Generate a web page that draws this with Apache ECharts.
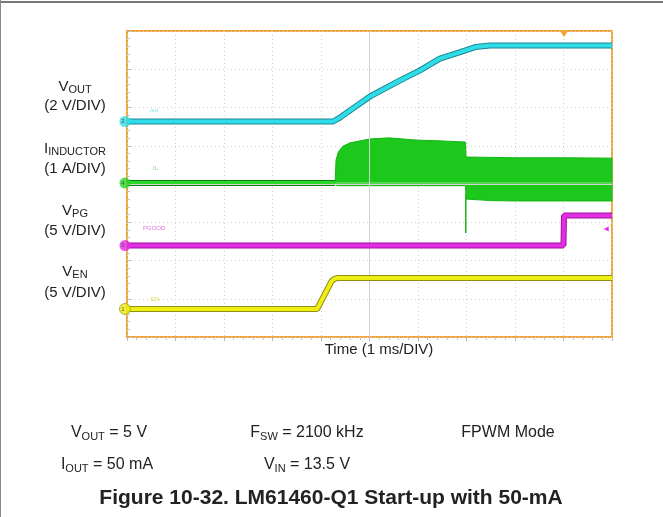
<!DOCTYPE html>
<html><head><meta charset="utf-8">
<script src="https://cdn.jsdelivr.net/npm/echarts@6/dist/echarts.min.js"></script>
<style>
html,body{margin:0;padding:0;background:#fff;}
#wrap{position:relative;width:663px;height:517px;overflow:hidden;background:#fff;}
#chart{position:absolute;left:0;top:0;width:663px;height:517px;}
#topline{position:absolute;left:0;top:1px;width:663px;height:2px;background:#787878;}
#leftline{position:absolute;left:0;top:0;width:1px;height:517px;background:#8a8a8a;}
</style></head><body>
<div id="wrap"><div id="chart"></div><div id="topline"></div><div id="leftline"></div></div>
<script>
// ---- data read from the scope shot (time in ms, 1 ms/DIV) ----
// VOUT (V), 2 V/DIV
const voutTime = [0, 4.25, 4.4, 4.6, 5.01, 5.63, 6.04, 6.45, 6.87, 7.18, 7.48, 10];
const voutVal  = [0, 0, 0.22, 0.58, 1.31, 2.15, 2.67, 3.29, 3.63, 3.89, 3.97, 3.97];
// Inductor current switching envelope (A), 1 A/DIV
const ilTime  = [4.29, 4.31, 4.36, 4.45, 4.6, 5.0, 5.4, 6.0, 6.5, 6.98, 6.99, 7.5, 8.0, 9.0, 10];
const ilUpper = [0, 0.6, 0.82, 0.96, 1.05, 1.15, 1.18, 1.12, 1.10, 1.07, 0.68, 0.67, 0.66, 0.66, 0.65];
const ilLower = [0, -0.06, -0.07, -0.07, -0.07, -0.07, -0.07, -0.07, -0.07, -0.07, -0.42, -0.46, -0.47, -0.47, -0.47];
const ilSpikeTime = [6.985, 6.985];
const ilSpikeVal  = [-0.3, -1.31];
// VPG (V), 5 V/DIV
const vpgTime = [0, 9.0, 9.01, 10];
const vpgVal  = [0, 0, 3.92, 3.92];
// VEN (V), 5 V/DIV
const venTime = [0, 3.92, 4.22, 4.28, 4.33, 10];
const venVal  = [0, 0, 3.66, 3.95, 4.05, 4.05];

// channel scale (units per DIV) and ground offset (DIV from bottom)
const channels = {
  vout: { scale: 2, offset: 5.634 },
  il:   { scale: 1, offset: 4.026 },
  vpg:  { scale: 5, offset: 2.392 },
  ven:  { scale: 5, offset: 0.732 }
};
const toDiv = (ch, v) => channels[ch].offset + v / channels[ch].scale;
const pts = (ch, ts, vs) => ts.map((t, i) => [t, toDiv(ch, vs[i])]);

const voutPts = pts('vout', voutTime, voutVal);
const venPts = pts('ven', venTime, venVal);
const vpgPts = pts('vpg', vpgTime, vpgVal);
const ilUpPts = pts('il', ilTime, ilUpper);
const ilLowPts = pts('il', ilTime, ilLower);
const ilStart = ilTime[0];
const ilBasePts = [[0, toDiv('il', 0)], [ilStart, toDiv('il', 0)]];
const ilMidPts = [[ilStart, toDiv('il', 0)], [10, toDiv('il', 0)]];
const ilSpikePts = pts('il', ilSpikeTime, ilSpikeVal);

const ORANGE = '#f3a53c';
const FONT = '"Liberation Sans", Arial, sans-serif';

function trace(data, color, edge, w, z) {
  const common = { type: 'line', data, showSymbol: false, symbol: 'none', silent: true, z: z };
  return [
    Object.assign({}, common, { lineStyle: { color: edge, width: w + 2 } }),
    Object.assign({}, common, { lineStyle: { color: color, width: w } })
  ];
}

const chart = echarts.init(document.getElementById('chart'), null, { renderer: 'canvas' });

const sub = (fs) => ({ fontSize: Math.round(fs * 0.7), fontFamily: FONT, color: '#222', verticalAlign: 'bottom', lineHeight: Math.round(fs * 1.15) });
const main = (fs) => ({ fontSize: fs, fontFamily: FONT, color: '#222', lineHeight: Math.round(fs * 1.15) });
function label(x, y, text, fs) {
  return { type: 'text', x, y, silent: true, style: { text, align: 'center', verticalAlign: 'middle', fontSize: fs, fontFamily: FONT, fill: '#222',
    rich: { m: main(fs), s: sub(fs) } } };
}

const leftX = 75;
const option = {
  animation: false,
  backgroundColor: '#fff',
  grid: { left: 127, top: 31, width: 485, height: 306, show: true, borderColor: ORANGE, borderWidth: 2, backgroundColor: '#ffffff' },
  xAxis: { type: 'value', min: 0, max: 10, interval: 1, position: 'top',
    axisLine: { show: false }, axisLabel: { show: false },
    axisTick: { show: true, inside: true, length: 4, lineStyle: { color: '#b9b9b9' } },
    minorTick: { show: true, splitNumber: 5, length: 3, lineStyle: { color: '#c4c4c4' } },
    splitLine: { show: true, lineStyle: { color: '#d2d2d2', type: [1, 3], width: 1 } } },
  yAxis: { type: 'value', min: 0, max: 8, interval: 1,
    axisLine: { show: false }, axisLabel: { show: false },
    axisTick: { show: true, inside: true, length: 4, lineStyle: { color: '#b9b9b9' } },
    minorTick: { show: true, splitNumber: 5, length: 3, lineStyle: { color: '#c4c4c4' } },
    splitLine: { show: true, lineStyle: { color: '#d2d2d2', type: [1, 3], width: 1 } } },
  series: [
    { type: 'line', data: [], silent: true, z: 1,
      markLine: { silent: true, symbol: 'none', label: { show: false },
        lineStyle: { color: '#d2d2d2', type: 'solid', width: 1 },
        data: [{ xAxis: 5 }, { yAxis: 4 }] } },
    // inductor switching band: polygon between upper and lower envelope
    { type: 'custom', silent: true, z: 2, data: [[ilStart, toDiv('il', 0)]],
      renderItem: function (params, api) {
        const up = ilUpPts.map(p => api.coord(p));
        const lo = ilLowPts.map(p => api.coord(p)).reverse();
        return { type: 'polygon', shape: { points: up.concat(lo) },
          style: { fill: '#1cc81c', stroke: '#16b416', lineWidth: 1 } };
      } },
    { type: 'line', data: ilSpikePts, symbol: 'none', silent: true, z: 2,
      lineStyle: { color: '#1cb81c', width: 1.5 } },
    { type: 'line', data: ilMidPts, symbol: 'none', silent: true, z: 3,
      lineStyle: { color: '#8ee68e', width: 1 } },
    ...trace(ilBasePts, '#2bd62b', '#0f7f0f', 4, 4),
    ...trace(voutPts, '#2fdde9', '#1d8792', 4, 5),
    ...trace(vpgPts, '#e22ee2', '#a012a0', 4, 5),
    ...trace(venPts, '#eeee12', '#8f8f14', 4, 5),
    // channel ground markers
    { type: 'scatter', clip: false, z: 10, silent: true, symbolSize: 11, symbolOffset: [-2, 0],
      data: [
        { value: [0, toDiv('vout', 0)], itemStyle: { color: '#35dbe8' }, label: { formatter: '2' } },
        { value: [0, toDiv('il', 0)], itemStyle: { color: '#2bd62b' }, label: { formatter: '4' } },
        { value: [0, toDiv('vpg', 0)], itemStyle: { color: '#e22ee2' }, label: { formatter: '3' } },
        { value: [0, toDiv('ven', 0)], itemStyle: { color: '#eeee12', borderColor: '#a0a020', borderWidth: 1 }, label: { formatter: '1' } }
      ],
      label: { show: true, position: 'inside', fontSize: 6, color: '#333', offset: [-2, 0] },
      markPoint: { silent: true, data: [
        { coord: [9.01, 8], symbol: 'triangle', symbolRotate: 180, symbolSize: [8, 6], symbolOffset: [0, 3], itemStyle: { color: ORANGE }, label: { show: false } },
        { coord: [9.88, toDiv('vpg', 2.15)], symbol: 'triangle', symbolRotate: 90, symbolSize: [5, 5], itemStyle: { color: '#e22ee2' }, label: { show: false } }
      ] } }
  ],
  graphic: [
    // small scope channel tags
    { type: 'text', x: 150, y: 110, silent: true, style: { text: 'out', fontSize: 6, fill: '#7fe3ea', fontFamily: FONT, verticalAlign: 'middle' } },
    { type: 'text', x: 153, y: 168, silent: true, style: { text: 'IL', fontSize: 6, fill: '#7cd67c', fontFamily: FONT, verticalAlign: 'middle' } },
    { type: 'text', x: 143, y: 228, silent: true, style: { text: 'PGOOD', fontSize: 6, fill: '#e070e0', fontFamily: FONT, verticalAlign: 'middle' } },
    { type: 'text', x: 151, y: 299, silent: true, style: { text: 'EN', fontSize: 6, fill: '#d8d84a', fontFamily: FONT, verticalAlign: 'middle' } },
    // left channel labels
    label(leftX, 87, '{m|V}{s|OUT}', 15),
    label(leftX, 106, '{m|(2 V/DIV)}', 15),
    label(leftX, 149, '{m|I}{s|INDUCTOR}', 15),
    label(leftX, 169, '{m|(1 A/DIV)}', 15),
    label(leftX, 211, '{m|V}{s|PG}', 15),
    label(leftX, 231, '{m|(5 V/DIV)}', 15),
    label(leftX, 272, '{m|V}{s|EN}', 15),
    label(leftX, 293, '{m|(5 V/DIV)}', 15),
    label(379, 350, '{m|Time (1 ms/DIV)}', 15),
    // conditions
    label(109, 433, '{m|V}{s|OUT}{m| = 5 V}', 16),
    label(307, 433, '{m|F}{s|SW}{m| = 2100 kHz}', 16),
    label(508, 433, '{m|FPWM Mode}', 16),
    label(107, 465, '{m|I}{s|OUT}{m| = 50 mA}', 16),
    label(307, 465, '{m|V}{s|IN}{m| = 13.5 V}', 16),
    { type: 'text', x: 331, y: 498, silent: true, style: { text: 'Figure 10-32. LM61460-Q1 Start-up with 50-mA', align: 'center', verticalAlign: 'middle',
      fontSize: 21, fontWeight: 'bold', fontFamily: FONT, fill: '#222' } }
  ]
};
chart.setOption(option);
</script>
</body></html>
